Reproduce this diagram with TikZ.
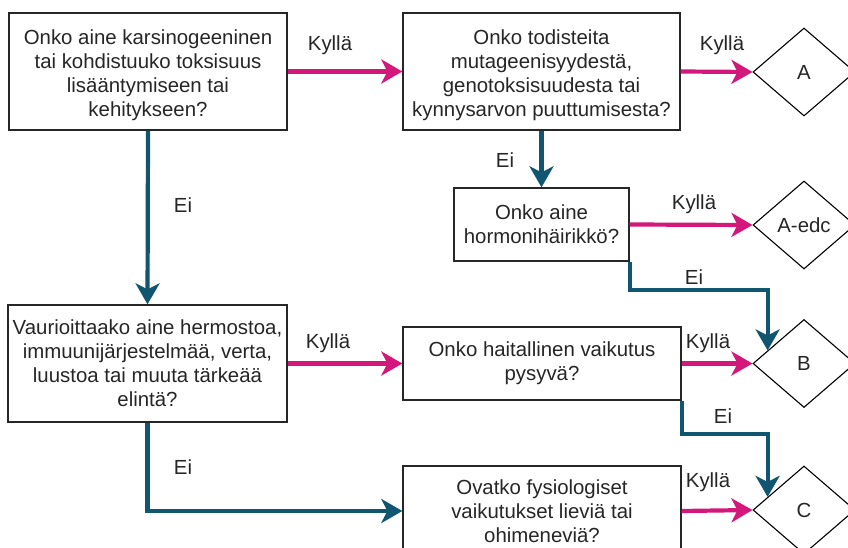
\documentclass[tikz,border=0pt]{standalone}
\usepackage{fontspec}
\setmainfont{Liberation Sans}
\usetikzlibrary{shapes.geometric,arrows.meta,calc}
\definecolor{yescol}{HTML}{D4177A}
\definecolor{nocol}{HTML}{115670}
\definecolor{txt}{HTML}{262626}
\newcommand{\topgap}{\rule{0pt}{22pt}}
\begin{document}
\begin{tikzpicture}[x=1pt,y=-1pt,
  font=\fontsize{20.4}{24}\selectfont, text=txt,
  qbox/.style={draw=black!85, line width=1.3pt, fill=white, align=center, inner sep=2pt},
  dia/.style={diamond, draw=black, line width=1.1pt, fill=white, inner sep=0pt, minimum width=102pt, minimum height=88pt},
  yes/.style={draw=yescol, line width=4.2pt, -{Stealth[length=21pt, width=24pt, inset=6pt]}},
  no/.style={draw=nocol, line width=4.2pt, -{Stealth[length=21pt, width=24pt, inset=6pt]}},
  lab/.style={font=\fontsize{20.4}{24}\selectfont, text=txt, inner sep=0pt}
]
\useasboundingbox (0,0) rectangle (848,548);
\clip (0,0) rectangle (848,548);
\fill[white] (0,0) rectangle (848,548);

\node[qbox, minimum width=278pt, minimum height=117pt] (b1) at (148,71.5)
  {\topgap Onko aine karsinogeeninen\\tai kohdistuuko toksisuus\\lisääntymiseen tai\\kehitykseen?};
\node[qbox, minimum width=277pt, minimum height=117pt] (b2) at (541.5,71.5)
  {\topgap Onko todisteita\\mutageenisyydestä,\\genotoksisuudesta tai\\kynnysarvon puuttumisesta?};
\node[qbox, minimum width=175pt, minimum height=73pt] (b3) at (541.5,224.5)
  {Onko aine\\hormonihäirikkö?};
\node[qbox, minimum width=279pt, minimum height=117pt] (b4) at (147.5,363.5)
  {Vaurioittaako aine hermostoa,\\immuunijärjestelmää, verta,\\luustoa tai muuta tärkeää\\elintä?};
\node[qbox, minimum width=278pt, minimum height=73pt] (b5) at (542,363.5)
  {Onko haitallinen vaikutus\\pysyvä?};
\node[qbox, minimum width=278pt, minimum height=90pt] (b6) at (542,511)
  {Ovatko fysiologiset\\vaikutukset lieviä tai\\ohimeneviä?};

\node[dia] (dA) at (804,72) {A};
\node[dia] (dAe) at (804,225) {A-edc};
\node[dia] (dB) at (804,363.5) {B};
\node[dia] (dC) at (804,510) {C};

% yes connectors
\draw[yes] (b1.east) -- (b2.west);
\draw[yes] (b2.east) -- (dA.west);
\draw[yes] (b3.east) -- (dAe.west);
\draw[yes] (b4.east) -- (b5.west);
\draw[yes] (b5.east) -- (dB.west);
\draw[yes] (b6.east) -- (dC.west);

% no connectors
\coordinate (eB) at ($(dB.west)!0.294!(dB.north)$);
\coordinate (eC) at ($(dC.west)!0.294!(dC.north)$);
\draw[no] (b1.south) -- (b4.north);
\draw[no] (b2.south) -- (b3.north);
\draw[no] (b3.south east) -- ++(0,28) -| (eB);
\draw[no] (b5.south east) -- ++(0,33) -| (eC);
\draw[no] (b4.south) |- (b6.west);

% labels
\node[lab] (l1) at (330,45) {Kyllä};
\node[lab] (l2) at (722,45) {Kyllä};
\node[lab] (l3) at (694,204) {Kyllä};
\node[lab] (l4) at (328,343) {Kyllä};
\node[lab] (l5) at (708,343) {Kyllä};
\node[lab] (l6) at (708,482) {Kyllä};
\node[lab] (n1) at (183,205) {Ei};
\node[lab] (n2) at (505,160) {Ei};
\node[lab] (n3) at (694,277) {Ei};
\node[lab] (n4) at (723,416) {Ei};
\node[lab] (n5) at (183,467) {Ei};
\end{tikzpicture}
\end{document}
